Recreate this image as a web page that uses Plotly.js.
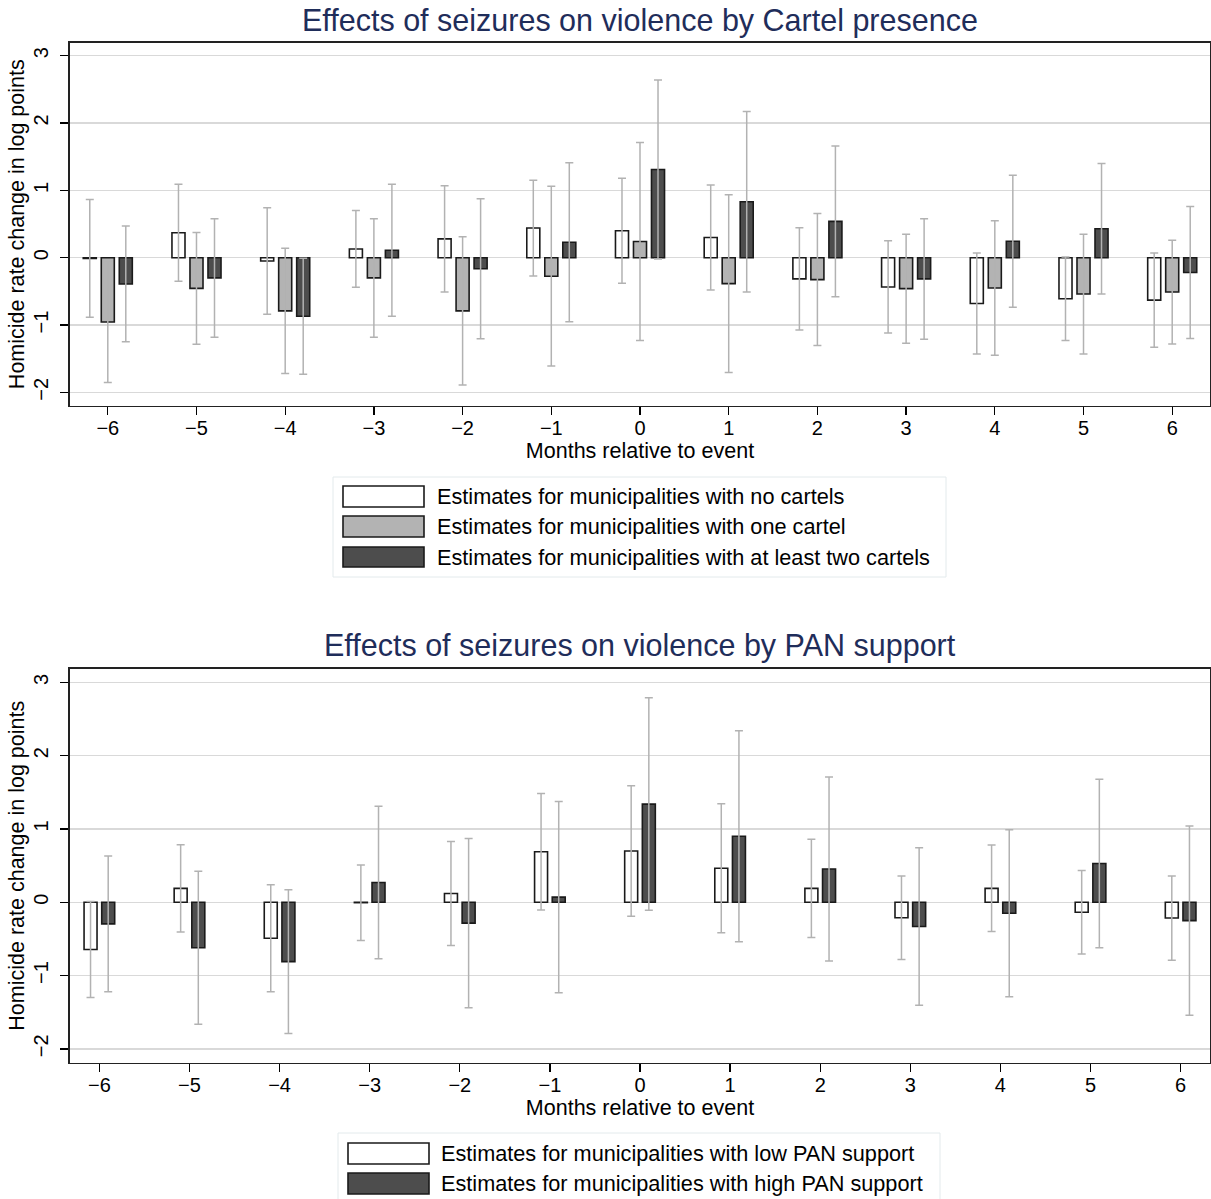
<!DOCTYPE html>
<html>
<head>
<meta charset="utf-8">
<script src="https://cdn.plot.ly/plotly-3.0.1.min.js"></script>
<style>html,body{margin:0;padding:0;background:#fff;}#chart{width:1211px;height:1199px;}</style>
</head>
<body>
<div id="chart"></div>
<script>
// ---------- data ----------
const months = [-6, -5, -4, -3, -2, -1, 0, 1, 2, 3, 4, 5, 6];
const monthLabels = ["−6", "−5", "−4", "−3", "−2", "−1", "0", "1", "2", "3", "4", "5", "6"];
const yTicks = [-2, -1, 0, 1, 2, 3];
const yTickLabels = ["−2", "−1", "0", "1", "2", "3"];

const titleTop = "Effects of seizures on violence by Cartel presence";
const titleBottom = "Effects of seizures on violence by PAN support";
const xTitle = "Months relative to event";
const yTitle = "Homicide rate change in log points";

const cartelNames = [
  "Estimates for municipalities with no cartels",
  "Estimates for municipalities with one cartel",
  "Estimates for municipalities with at least two cartels"
];
const noCartelEst = [-0.01, 0.37, -0.05, 0.13, 0.28, 0.44, 0.40, 0.30, -0.315, -0.435, -0.68, -0.61, -0.63];
const noCartelCI  = [0.875, 0.72, 0.79, 0.57, 0.79, 0.71, 0.78, 0.78, 0.76, 0.685, 0.75, 0.62, 0.70];
const oneCartelEst = [-0.955, -0.455, -0.79, -0.30, -0.79, -0.275, 0.24, -0.385, -0.325, -0.46, -0.45, -0.54, -0.51];
const oneCartelCI  = [0.90, 0.83, 0.93, 0.88, 1.10, 1.335, 1.47, 1.32, 0.98, 0.81, 1.00, 0.89, 0.77];
const twoCartelEst = [-0.39, -0.30, -0.87, 0.11, -0.165, 0.23, 1.31, 0.83, 0.54, -0.315, 0.245, 0.43, -0.22];
const twoCartelCI  = [0.86, 0.88, 0.86, 0.98, 1.04, 1.18, 1.33, 1.34, 1.12, 0.895, 0.98, 0.97, 0.98];

const panNames = [
  "Estimates for municipalities with low PAN support",
  "Estimates for municipalities with high PAN support"
];
const lowPanEst = [-0.645, 0.19, -0.49, -0.005, 0.12, 0.69, 0.70, 0.465, 0.19, -0.21, 0.19, -0.135, -0.215];
const lowPanCI  = [0.655, 0.595, 0.73, 0.515, 0.71, 0.795, 0.89, 0.88, 0.67, 0.57, 0.59, 0.57, 0.575];
const highPanEst = [-0.295, -0.62, -0.81, 0.27, -0.285, 0.07, 1.34, 0.90, 0.455, -0.33, -0.15, 0.53, -0.25];
const highPanCI  = [0.925, 1.045, 0.98, 1.04, 1.155, 1.305, 1.45, 1.44, 1.255, 1.075, 1.14, 1.15, 1.29];

// ---------- styles ----------
const W = 1211, H = 1199;
const FONT = "Liberation Sans, Arial, Helvetica, sans-serif";
const fills = ["#ffffff", "#b3b3b3", "#4d4d4d"];
const fills2 = ["#ffffff", "#4d4d4d"];
const outline = "#1a1a1a";
const errColor = "#b2b2b2";
const px = v => v / W;
const py = v => 1 - v / H;

function barTrace(est, ci, name, fill, xa, ya, width, offset) {
  return {
    type: "bar", x: months, y: est, name: name,
    xaxis: xa, yaxis: ya, width: width, offset: offset,
    marker: {color: fill, line: {color: outline, width: 1.6}},
    error_y: {type: "data", array: ci, symmetric: true, color: errColor, thickness: 1.5, width: 4},
    showlegend: false, hoverinfo: "x+y"
  };
}

const wTop = 0.147, sTop = 0.203;
const wBot = 0.144, sBot = 0.098;
const topEst = [noCartelEst, oneCartelEst, twoCartelEst];
const topCI = [noCartelCI, oneCartelCI, twoCartelCI];
const botEst = [lowPanEst, highPanEst];
const botCI = [lowPanCI, highPanCI];

const data = [];
topEst.forEach((e, i) => data.push(barTrace(e, topCI[i], cartelNames[i], fills[i], "x", "y", wTop, (i - 1) * sTop - wTop / 2)));
botEst.forEach((e, i) => data.push(barTrace(e, botCI[i], panNames[i], fills2[i], "x2", "y2", wBot, (i === 0 ? -sBot : sBot) - wBot / 2)));

function xAxis(range, anchor) {
  return {
    domain: [px(70), px(1210)], anchor: anchor, range: range,
    tickmode: "array", tickvals: months, ticktext: monthLabels,
    ticks: "outside", ticklen: 8, tickwidth: 1.3, tickcolor: "#000",
    ticklabelstandoff: -4,
    showline: true, mirror: true, linecolor: "#222", linewidth: 1.6,
    showgrid: false, zeroline: false,
    tickfont: {family: FONT, size: 20, color: "#000"},
    title: {text: xTitle, font: {family: FONT, size: 21.5, color: "#000"}, standoff: 0},
    fixedrange: true
  };
}
function yAxis(range, domain, anchor) {
  return {
    domain: domain, anchor: anchor, range: range,
    tickmode: "array", tickvals: yTicks, ticktext: yTickLabels, tickangle: -90,
    ticks: "outside", ticklen: 8, tickwidth: 1.3, tickcolor: "#000",
    ticklabelstandoff: 4,
    showline: true, mirror: true, linecolor: "#222", linewidth: 1.6,
    showgrid: true, gridcolor: "#d9d9d9", gridwidth: 1.4, zeroline: false,
    tickfont: {family: FONT, size: 20, color: "#000"},
    title: {text: yTitle, font: {family: FONT, size: 21.5, color: "#000"}, standoff: 0},
    fixedrange: true
  };
}

const shapes = [];
const annotations = [];

function legend(names, colors, box, symX, rows, textX) {
  shapes.push({type: "rect", xref: "paper", yref: "paper",
    x0: px(box[0]), x1: px(box[2]), y0: py(box[3]), y1: py(box[1]),
    line: {color: "#e3eaec", width: 1}, fillcolor: "#ffffff", layer: "below"});
  names.forEach((n, i) => {
    shapes.push({type: "rect", xref: "paper", yref: "paper",
      x0: px(symX[0]), x1: px(symX[1]), y0: py(rows[i][1]), y1: py(rows[i][0]),
      line: {color: outline, width: 1.6}, fillcolor: colors[i]});
    annotations.push({xref: "paper", yref: "paper", x: px(textX), y: py((rows[i][0] + rows[i][1]) / 2),
      xanchor: "left", yanchor: "middle", showarrow: false, text: n,
      font: {family: FONT, size: 21.7, color: "#000"}});
  });
}
legend(cartelNames, fills, [333, 477, 946, 577], [343, 424], [[486, 507], [516, 537], [547, 567]], 435);
legend(panNames, fills2, [338, 1133, 940, 1205], [348, 429], [[1143, 1164], [1173, 1194]], 439);

annotations.push({xref: "paper", yref: "paper", x: px(640), y: py(20), xanchor: "center", yanchor: "middle",
  showarrow: false, text: titleTop, font: {family: FONT, size: 30.5, color: "#1f2d5a"}});
annotations.push({xref: "paper", yref: "paper", x: px(640), y: py(645), xanchor: "center", yanchor: "middle",
  showarrow: false, text: titleBottom, font: {family: FONT, size: 30.5, color: "#1f2d5a"}});

const layout = {
  width: W, height: H,
  margin: {l: 0, r: 0, t: 0, b: 0},
  paper_bgcolor: "#ffffff", plot_bgcolor: "#ffffff",
  barmode: "overlay",
  showlegend: false,
  font: {family: FONT, color: "#000"},
  xaxis: xAxis([-6.426, 6.426], "y"),
  yaxis: yAxis([-2.198, 3.193], [py(405.7), py(42.7)], "x"),
  xaxis2: xAxis([-6.326, 6.326], "y2"),
  yaxis2: yAxis([-2.186, 3.183], [py(1062.5), py(669)], "x2"),
  shapes: shapes,
  annotations: annotations
};

Plotly.newPlot("chart", data, layout, {displayModeBar: false, staticPlot: true});
</script>
</body>
</html>
